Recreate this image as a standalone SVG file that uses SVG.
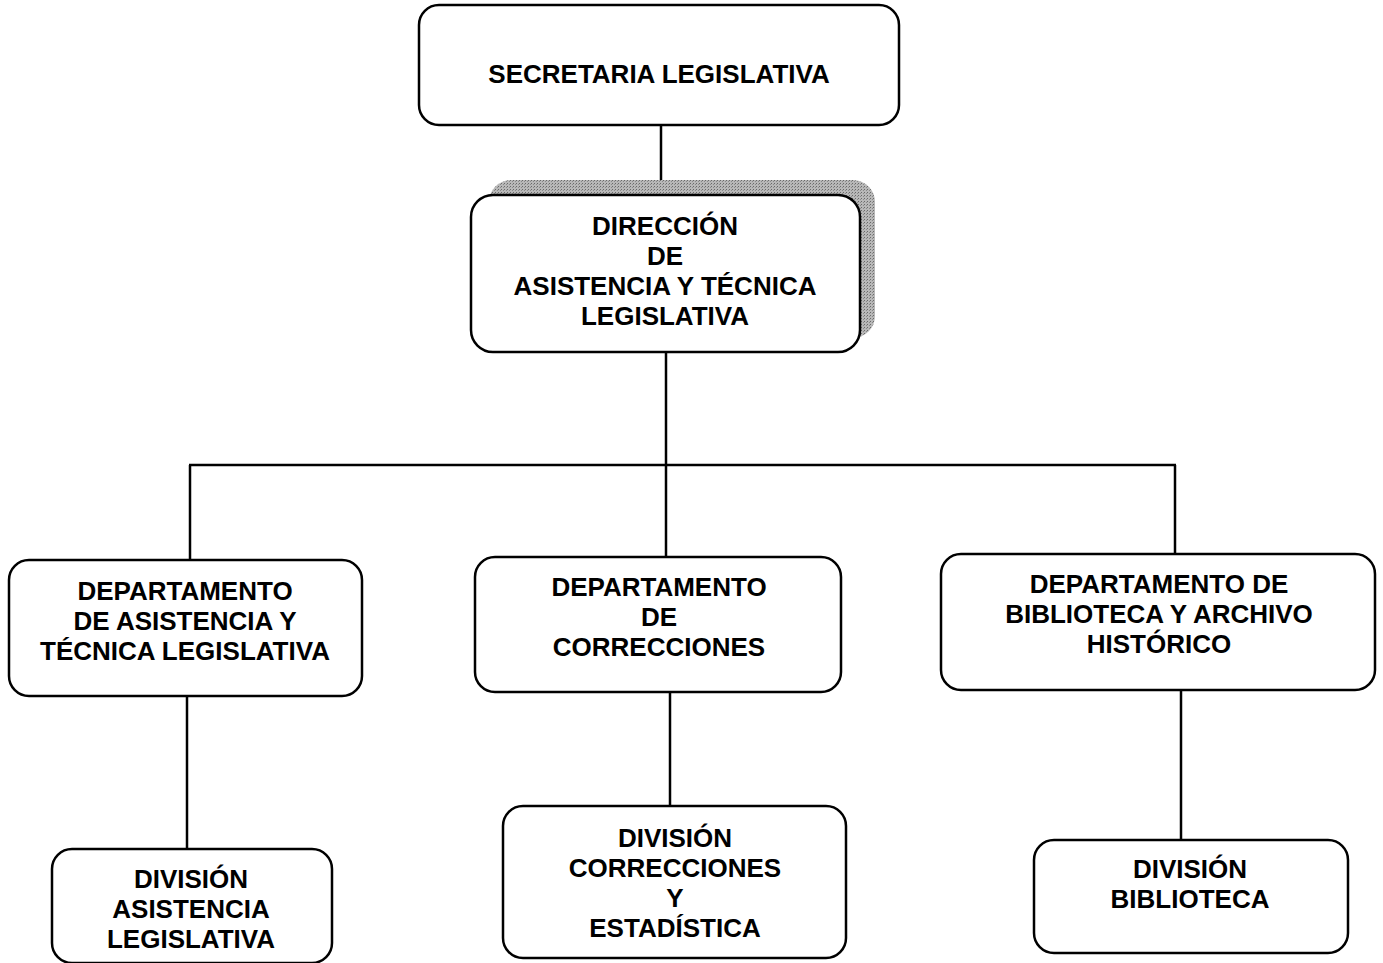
<svg xmlns="http://www.w3.org/2000/svg" width="1383" height="963" viewBox="0 0 1383 963">
<defs>
<pattern id="dots" width="3" height="3" patternUnits="userSpaceOnUse">
<rect width="3" height="3" fill="#b8b8b8"/>
<rect width="1" height="1" fill="#6a6a6a"/>
<rect x="2" y="1" width="1" height="1" fill="#8a8a8a"/>
</pattern>
</defs>
<style>
.box{fill:#fff;stroke:#000;stroke-width:2.5}
.t{font-family:"Liberation Sans",Arial,sans-serif;font-weight:bold;font-size:26px;fill:#000;text-anchor:middle}
.c{stroke:#000;stroke-width:2.5;fill:none}
</style>
<rect width="1383" height="963" fill="#fff"/>
<g id="connectors">
<line class="c" x1="661" y1="125" x2="661" y2="197"/>
<line class="c" x1="666" y1="352" x2="666" y2="465"/>
<line class="c" x1="189" y1="465" x2="1176" y2="465"/>
<line class="c" x1="190" y1="465" x2="190" y2="561"/>
<line class="c" x1="666" y1="465" x2="666" y2="558"/>
<line class="c" x1="1175" y1="465" x2="1175" y2="555"/>
<line class="c" x1="187" y1="696" x2="187" y2="850"/>
<line class="c" x1="670" y1="692" x2="670" y2="807"/>
<line class="c" x1="1181" y1="690" x2="1181" y2="841"/>
</g>
<g id="secretaria">
<rect class="box" x="419" y="5" width="480" height="120" rx="20"/>
<text class="t" x="659" y="83" font-size="27.5">SECRETARIA LEGISLATIVA</text>
</g>
<g id="direccion">
<rect x="489" y="180" width="386" height="158" rx="22" fill="url(#dots)"/>
<rect class="box" x="471" y="195" width="389" height="157" rx="22"/>
<text class="t" x="665" y="235">DIRECCIÓN</text>
<text class="t" x="665" y="265">DE</text>
<text class="t" x="665" y="295">ASISTENCIA Y TÉCNICA</text>
<text class="t" x="665" y="325">LEGISLATIVA</text>
</g>
<g id="dept-asistencia">
<rect class="box" x="9" y="560" width="353" height="136" rx="20"/>
<text class="t" x="185" y="600">DEPARTAMENTO</text>
<text class="t" x="185" y="630">DE ASISTENCIA Y</text>
<text class="t" x="185" y="660">TÉCNICA LEGISLATIVA</text>
</g>
<g id="dept-correcciones">
<rect class="box" x="475" y="557" width="366" height="135" rx="20"/>
<text class="t" x="659" y="596">DEPARTAMENTO</text>
<text class="t" x="659" y="626">DE</text>
<text class="t" x="659" y="656">CORRECCIONES</text>
</g>
<g id="dept-biblioteca">
<rect class="box" x="941" y="554" width="434" height="136" rx="20"/>
<text class="t" x="1159" y="593">DEPARTAMENTO DE</text>
<text class="t" x="1159" y="623">BIBLIOTECA Y ARCHIVO</text>
<text class="t" x="1159" y="653">HISTÓRICO</text>
</g>
<g id="div-asistencia">
<rect class="box" x="52" y="849" width="280" height="114" rx="20"/>
<text class="t" x="191" y="888">DIVISIÓN</text>
<text class="t" x="191" y="918">ASISTENCIA</text>
<text class="t" x="191" y="948">LEGISLATIVA</text>
</g>
<g id="div-correcciones">
<rect class="box" x="503" y="806" width="343" height="152" rx="20"/>
<text class="t" x="675" y="847">DIVISIÓN</text>
<text class="t" x="675" y="877">CORRECCIONES</text>
<text class="t" x="675" y="907">Y</text>
<text class="t" x="675" y="937">ESTADÍSTICA</text>
</g>
<g id="div-biblioteca">
<rect class="box" x="1034" y="840" width="314" height="113" rx="20"/>
<text class="t" x="1190" y="878">DIVISIÓN</text>
<text class="t" x="1190" y="908">BIBLIOTECA</text>
</g>
</svg>
